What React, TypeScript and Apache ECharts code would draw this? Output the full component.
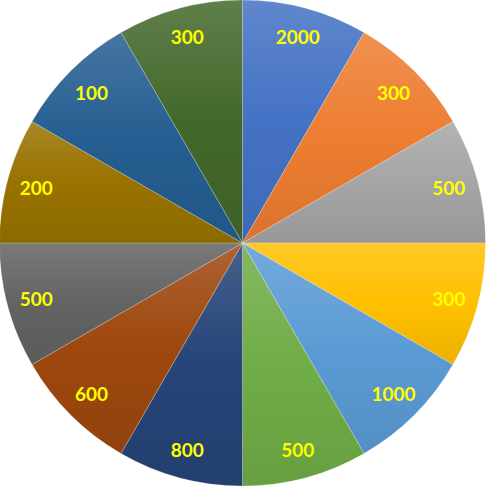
import React, { useEffect, useRef } from "react";
import * as echarts from "echarts";

const categories = ["A", "B", "C", "D", "E", "F", "G", "H", "I", "J", "K", "L"];
const sliceWeights = [1, 1, 1, 1, 1, 1, 1, 1, 1, 1, 1, 1];
const labelValues = [2000, 300, 500, 300, 1000, 500, 800, 600, 500, 200, 100, 300];
const baseColors = [
  "#4472C4", "#ED7D31", "#A5A5A5", "#FFC000", "#5B9BD5", "#70AD47",
  "#264478", "#9E480E", "#636363", "#997300", "#255E91", "#43682B",
];

function mix(hex: string, target: number, t: number): string {
  const n = parseInt(hex.slice(1), 16);
  const ch = [(n >> 16) & 255, (n >> 8) & 255, n & 255].map((c) =>
    Math.round(c + (target - c) * t)
  );
  return "rgb(" + ch.join(",") + ")";
}

function grad(hex: string) {
  return new echarts.graphic.LinearGradient(0, 0, 0, 1, [
    { offset: 0, color: mix(hex, 255, 0.15) },
    { offset: 0.5, color: hex },
    { offset: 1, color: mix(hex, 0, 0.08) },
  ]);
}

export default function App() {
  const ref = useRef<HTMLDivElement>(null);
  useEffect(() => {
    if (!ref.current) return;
    const chart = echarts.init(ref.current, null, { renderer: "svg" });
    const data = categories.map((c, i) => ({
      name: c,
      value: sliceWeights[i],
      itemStyle: { color: grad(baseColors[i]) },
    }));
    const labelData = categories.map((c, i) => ({
      name: String(labelValues[i]),
      value: sliceWeights[i],
    }));
    chart.setOption({
      animation: false,
      backgroundColor: "#ffffff",
      series: [
        {
          type: "pie",
          center: [242.5, 243],
          radius: [0, 243],
          startAngle: 90,
          clockwise: true,
          silent: true,
          data,
          label: { show: false },
          labelLine: { show: false },
          itemStyle: { borderColor: "rgba(255,255,255,0.35)", borderWidth: 0.6 },
        },
        {
          type: "pie",
          center: [242.5, 243],
          radius: [178, 243],
          startAngle: 90,
          clockwise: true,
          silent: true,
          data: labelData,
          itemStyle: { color: "rgba(0,0,0,0)" },
          label: {
            show: true,
            position: "inside",
            formatter: "{b}",
            color: "#FFFF00",
            fontSize: 19,
            fontWeight: "bold",
            fontFamily: "Lato, 'Open Sans', sans-serif",
          },
          labelLine: { show: false },
        },
      ],
    });
    return () => chart.dispose();
  }, []);
  return (
    <div
      ref={ref}
      style={{ position: "fixed", left: 0, top: 0, width: 486, height: 487 }}
    />
  );
}
